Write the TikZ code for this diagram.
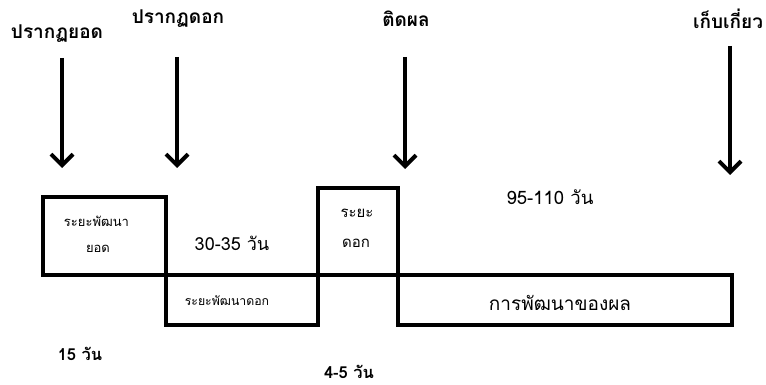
\documentclass[tikz,border=0pt]{standalone}
\usepackage{fontspec}
\newfontfamily\thai[Script=Thai]{Loma}
\usetikzlibrary{arrows.meta}
\begin{document}
\begin{tikzpicture}[x=1pt,y=-1pt,
  box/.style={draw=black,line width=4pt,rectangle,inner sep=0pt},
  toplabel/.style={font=\thai\bfseries\fontsize{19}{22}\selectfont},
  darrow/.style={line width=4pt,-{Straight Barb[length=11pt,width=22pt,line width=4pt]}},
  txt/.style={font=\thai\fontsize{18.5}{21}\selectfont},
  small/.style={font=\thai\fontsize{13}{15}\selectfont},
  days/.style={font=\thai\bfseries\fontsize{16.5}{18}\selectfont}]
\useasboundingbox (0,0) rectangle (766,385);
% boxes
\node[box,minimum width=123pt,minimum height=78pt] (b1) at (104.5,236) {};
\node[box,minimum width=152pt,minimum height=50pt] (b2) at (242,300) {};
\node[box,minimum width=80pt,minimum height=87pt] (b3) at (358,231.5) {};
\node[box,minimum width=334pt,minimum height=50pt] (b4) at (565,300) {};
% box texts
\node[small] (t1a) at (96.5,221) {ระยะพัฒนา};
\node[small] (t1b) at (98,249) {ยอด};
\node[small,font=\thai\fontsize{12.3}{15}\selectfont] (t2) at (227,301) {ระยะพัฒนาดอก};
\node[small,font=\thai\fontsize{15}{18}\selectfont] (t3a) at (357,213) {ระยะ};
\node[small,font=\thai\fontsize{15}{18}\selectfont] (t3b) at (356,243) {ดอก};
\node[txt,font=\thai\fontsize{19}{22}\selectfont] (t4) at (560,303) {การพัฒนาของผล};
% top labels
\node[toplabel] (l1) at (57,34) {ปรากฏยอด};
\node[toplabel] (l2) at (178,19) {ปรากฏดอก};
\node[toplabel] (l3) at (406,19) {ติดผล};
\node[toplabel] (l4) at (728,19) {เก็บเกี่ยว};
% arrows
\coordinate (a1s) at (62,58); \coordinate (a1e) at (62,168);
\coordinate (a2s) at (177,57); \coordinate (a2e) at (177,168);
\coordinate (a3s) at (405,57); \coordinate (a3e) at (405,169);
\coordinate (a4s) at (730,46); \coordinate (a4e) at (730,175);
\draw[darrow] (a1s) -- (a1e);
\draw[darrow] (a2s) -- (a2e);
\draw[darrow] (a3s) -- (a3e);
\draw[darrow] (a4s) -- (a4e);
% durations
\node[txt,font=\thai\fontsize{18}{21}\selectfont] (d1) at (232,243) {30-35 วัน};
\node[txt] (d2) at (550,197) {95-110 วัน};
\node[days] (d3) at (80,354) {15 วัน};
\node[days] (d4) at (349,372) {4-5 วัน};
\end{tikzpicture}
\end{document}
